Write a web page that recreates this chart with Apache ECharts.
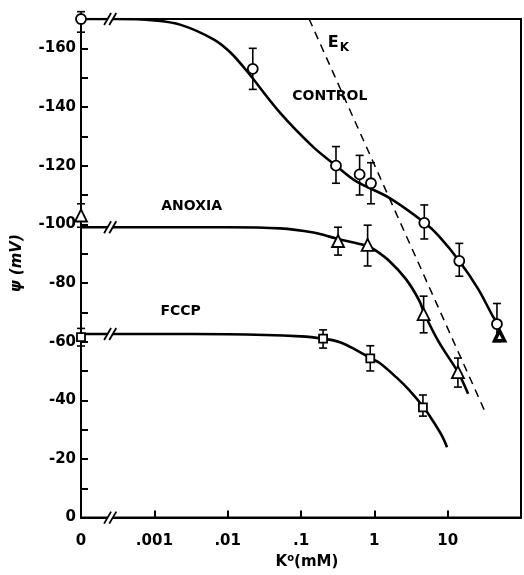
<!DOCTYPE html>
<html>
<head>
<meta charset="utf-8">
<script src="https://cdn.jsdelivr.net/npm/echarts@6/dist/echarts.min.js"></script>
<style>html,body{margin:0;padding:0;background:#fff}#c{width:524px;height:575px}</style>
</head>
<body>
<div id="c"></div>
<script>
// ---- axis ----
var X_MIN = 0.0001;   // position where K = 0 is drawn (axis break)
var X_MAX = 100;
var BREAK_K = 0.00025;
var xTickExp = [-4, -3, -2, -1, 0, 1];
var xTickLabels = ['0', '.001', '.01', '.1', '1', '10'];

// ---- measured points (K in mM, psi in mV) ----
var controlK = [0, 0.022, 0.3, 0.63, 0.9, 4.8, 14.4, 47];
var controlPsi = [-170, -153, -120, -117, -114, -100.5, -87.5, -66];
var controlErrHi = [-172.5, -160, -126.5, -123.5, -121, -106.6, -93.5, -73];
var controlErrLo = [-165.5, -146, -114, -110, -107, -95, -82.3, -60];

var anoxiaK = [0, 0.32, 0.81, 4.7, 13.8, 51];
var anoxiaPsi = [-103, -94.3, -93, -69.4, -49.6, -62];
var anoxiaErrHi = [-107, -99, -99.7, -75.5, -54.4, null];
var anoxiaErrLo = [-99, -89.5, -85.8, -63, -44.5, null];

var fccpK = [0, 0.2, 0.88, 4.6];
var fccpPsi = [-61.5, -61, -54.3, -37.6];
var fccpErrHi = [-64.5, -64, -58.6, -41.8];
var fccpErrLo = [-58.5, -57.8, -50, -34.6];

// ---- fitted curves ----
var controlCurveK = [0, 0.0003, 0.001, 0.0023, 0.0065, 0.011, 0.0186, 0.052, 0.145, 0.3, 0.56, 1.6, 4.8, 7.6, 14.4, 26, 41, 46];
var controlCurvePsi = [-170, -170, -169.5, -168, -163, -158.5, -152, -138, -126.5, -120, -114.7, -109, -100.6, -96, -87.5, -78, -68.8, -67];

var anoxiaCurveK = [0, 0.0003, 0.001, 0.01, 0.052, 0.148, 0.245, 0.42, 0.81, 1.0, 1.6, 2.7, 4.1, 4.8, 7.6, 13.8, 19];
var anoxiaCurvePsi = [-99, -99, -99, -99, -98.6, -97.2, -95.8, -94.3, -92.6, -91.4, -87.5, -81.3, -74, -69.6, -59.8, -49.6, -42.2];

var fccpCurveK = [0, 0.001, 0.01, 0.1, 0.2, 0.34, 0.56, 0.89, 1.17, 2.0, 2.95, 4.7, 6.2, 8.3, 9.8];
var fccpCurvePsi = [-62.6, -62.6, -62.5, -61.8, -61, -59.8, -57.2, -54.3, -52.8, -47.8, -43.6, -37.6, -33.2, -28, -24];

var ekK = [0.129, 33];
var ekPsi = [-170, -35.6];

// ---- text labels ----
var labelNames = ['CONTROL', 'ANOXIA', 'FCCP', 'EK'];
var labelK = [0.076, 0.00124, 0.00121, 0.232];
var labelPsi = [-143.5, -106.2, -70.4, -162];

var breakPsi = [-170, -99, -62.6, 0];

function kp(k) { return k === 0 ? X_MIN : k; }
function pairs(ks, ys) { return ks.map(function (k, i) { return [kp(k), ys[i]]; }); }
function errData(ks, hi, lo) {
  var out = [];
  ks.forEach(function (k, i) { if (hi[i] != null) out.push([kp(k), hi[i], lo[i]]); });
  return out;
}

var FONT = 'DejaVu Sans';
var chart = echarts.init(document.getElementById('c'));

function errorSeries(data) {
  return {
    type: 'custom', z: 4, clip: false,
    data: data,
    renderItem: function (params, api) {
      var a = api.coord([api.value(0), api.value(1)]);
      var b = api.coord([api.value(0), api.value(2)]);
      var w = 4;
      return {
        type: 'group',
        children: [
          { type: 'line', shape: { x1: a[0], y1: a[1], x2: b[0], y2: b[1] }, style: { stroke: '#000', lineWidth: 1.6 } },
          { type: 'line', shape: { x1: a[0] - w, y1: a[1], x2: a[0] + w, y2: a[1] }, style: { stroke: '#000', lineWidth: 1.6 } },
          { type: 'line', shape: { x1: b[0] - w, y1: b[1], x2: b[0] + w, y2: b[1] }, style: { stroke: '#000', lineWidth: 1.6 } }
        ]
      };
    }
  };
}

var option = {
  backgroundColor: '#fff',
  animation: false,
  grid: { left: 81, top: 19, right: 1, bottom: 56, show: true, borderColor: '#000', borderWidth: 2 },
  xAxis: {
    type: 'log', logBase: 10, min: X_MIN, max: X_MAX,
    axisLine: { lineStyle: { color: '#000', width: 2 } },
    axisTick: { inside: true, length: 7, lineStyle: { color: '#000', width: 2 } },
    splitLine: { show: false },
    minorTick: { show: false },
    axisLabel: {
      color: '#000', fontFamily: FONT, fontWeight: 'bold', fontSize: 15, margin: 16,
      formatter: function (v) {
        var e = Math.round(Math.log(v) / Math.LN10);
        var i = xTickExp.indexOf(e);
        return i >= 0 ? xTickLabels[i] : '';
      }
    },
    name: '{k|K}{s|o}{k|(mM)}',
    nameLocation: 'middle', nameGap: 30,
    nameTextStyle: {
      padding: [0, 0, 0, 12],
      rich: {
        k: { fontFamily: FONT, fontWeight: 'bold', fontSize: 15, color: '#000' },
        s: { fontFamily: FONT, fontWeight: 'bold', fontSize: 10, color: '#000', padding: [0, 0, 8, 0] }
      }
    }
  },
  yAxis: {
    type: 'value', inverse: true, min: -170, max: 0, interval: 10,
    axisLine: { lineStyle: { color: '#000', width: 2 } },
    axisTick: { inside: true, length: 7, lineStyle: { color: '#000', width: 2 } },
    splitLine: { show: false },
    axisLabel: {
      color: '#000', fontFamily: FONT, fontWeight: 'bold', fontSize: 15, margin: 5,
      formatter: function (v) { return (v % 20 === 0) ? String(v) : ''; }
    },
    name: 'ψ (mV)', nameLocation: 'middle', nameGap: 56, nameRotate: 90,
    nameTextStyle: { fontFamily: FONT, fontStyle: 'italic', fontWeight: 'bold', fontSize: 15, color: '#000', padding: [0, 0, 0, 10] }
  },
  series: [
    { type: 'line', smooth: 0.35, showSymbol: false, data: pairs(controlCurveK, controlCurvePsi), lineStyle: { color: '#000', width: 2.6 }, z: 2 },
    { type: 'line', smooth: 0.35, showSymbol: false, data: pairs(anoxiaCurveK, anoxiaCurvePsi), lineStyle: { color: '#000', width: 2.6 }, z: 2 },
    { type: 'line', smooth: 0.35, showSymbol: false, data: pairs(fccpCurveK, fccpCurvePsi), lineStyle: { color: '#000', width: 2.6 }, z: 2 },
    { type: 'line', showSymbol: false, data: pairs(ekK, ekPsi), lineStyle: { color: '#000', width: 1.5, type: [8, 6] }, z: 2 },
    errorSeries(errData(controlK, controlErrHi, controlErrLo)),
    errorSeries(errData(anoxiaK, anoxiaErrHi, anoxiaErrLo)),
    errorSeries(errData(fccpK, fccpErrHi, fccpErrLo)),
    { type: 'scatter', symbol: 'circle', symbolSize: 10, z: 5, data: pairs(controlK, controlPsi),
      itemStyle: { color: '#fff', borderColor: '#000', borderWidth: 1.8, opacity: 1 } },
    { type: 'scatter', symbol: 'triangle', symbolSize: 12, z: 5,
      data: pairs(anoxiaK, anoxiaPsi).map(function (p, i) {
        return i === anoxiaK.length - 1 ? { value: p, symbolSize: 10, itemStyle: { borderWidth: 3.5 } } : p;
      }),
      itemStyle: { color: '#fff', borderColor: '#000', borderWidth: 1.8, opacity: 1 } },
    { type: 'scatter', symbol: 'rect', symbolSize: 8, z: 5, data: pairs(fccpK, fccpPsi),
      itemStyle: { color: '#fff', borderColor: '#000', borderWidth: 1.8, opacity: 1 } },
    { // axis-break marks
      type: 'custom', z: 6, clip: false,
      data: breakPsi.map(function (y) { return [BREAK_K, y]; }),
      renderItem: function (params, api) {
        var c = api.coord([api.value(0), api.value(1)]);
        var h = 6, s = 3.5, d = 2.6;
        return {
          type: 'group',
          children: [
            { type: 'polygon', shape: { points: [[c[0] - d - s, c[1] + 3], [c[0] + d - s, c[1] + 3], [c[0] + d + s, c[1] - 3], [c[0] - d + s, c[1] - 3]] }, style: { fill: '#fff' } },
            { type: 'line', shape: { x1: c[0] - d - s, y1: c[1] + h, x2: c[0] - d + s, y2: c[1] - h }, style: { stroke: '#000', lineWidth: 1.8 } },
            { type: 'line', shape: { x1: c[0] + d - s, y1: c[1] + h, x2: c[0] + d + s, y2: c[1] - h }, style: { stroke: '#000', lineWidth: 1.8 } }
          ]
        };
      }
    },
    { // text labels
      type: 'scatter', symbolSize: 0, z: 7, silent: true,
      itemStyle: { opacity: 1 },
      data: labelNames.map(function (n, i) { return { name: n, value: [labelK[i], labelPsi[i]] }; }),
      label: {
        show: true, position: 'inside', align: 'left', verticalAlign: 'middle',
        fontFamily: FONT, fontWeight: 'bold', fontSize: 14, color: '#000', opacity: 1,
        formatter: function (p) { return p.name === 'EK' ? '{e|E}{k|K}' : '{t|' + p.name + '}'; },
        rich: {
          t: { fontFamily: FONT, fontWeight: 'bold', fontSize: 14, color: '#000' },
          e: { fontFamily: FONT, fontWeight: 'bold', fontSize: 16, color: '#000' },
          k: { fontFamily: FONT, fontWeight: 'bold', fontSize: 12, color: '#000', padding: [10, 0, 0, 1] }
        }
      }
    }
  ]
};
chart.setOption(option);
</script>
</body>
</html>
